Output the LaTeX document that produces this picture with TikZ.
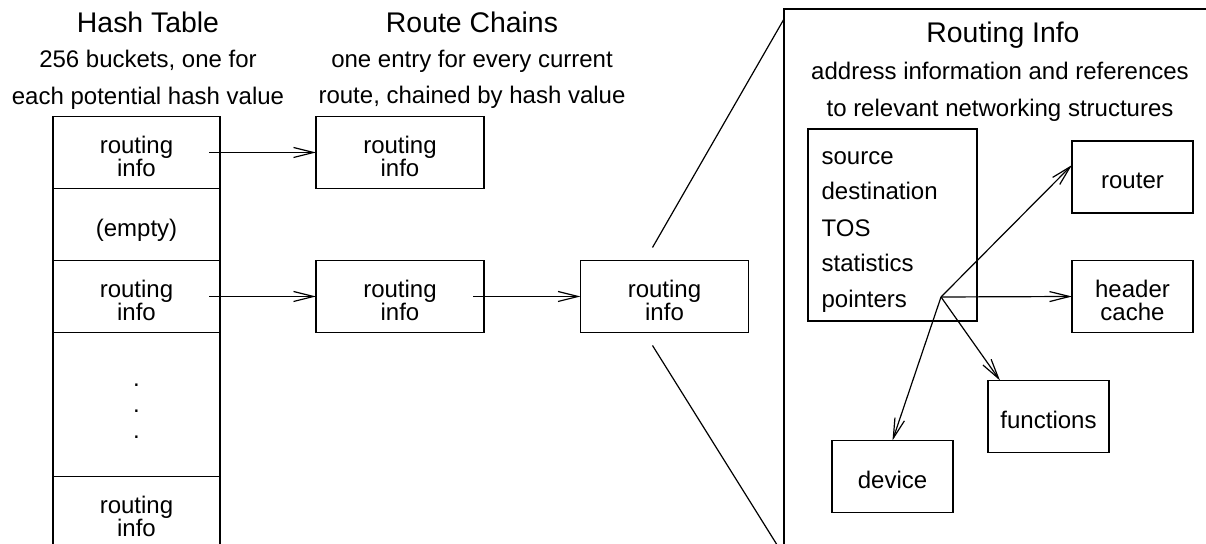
\documentclass[tikz,border=0pt]{standalone}
\usepackage{fontspec}
\setmainfont{Liberation Sans}
\usepackage{tikz}
\usetikzlibrary{arrows.meta}
\usetikzlibrary{positioning}
\tikzset{
  Feld/.style={draw, outer sep=0pt, inner sep=0pt, align=center,
    minimum width=83.5pt, minimum height=36pt,
    text height=12pt, text depth=0pt}, % Tabellenzeile
  zweizeilig/.style={text height=24pt}, % routing/info
  Kasten/.style={Feld, minimum width=84pt}, % Kettenglied
  Ziel/.style={Feld, minimum width=60.5pt}, % Strukturen rechts
  Zeiger/.style={->}, % Verweise
  Titel/.style={anchor=base, font=\fontsize{14.2}{16}\selectfont},
  Untertitel/.style={anchor=base}
}

\begin{document}
\begin{tikzpicture}[
x=0.5pt, y=-0.5pt, line width=.6pt,
font=\fontsize{12}{11.5}\selectfont,
>={Straight Barb[length=10pt,width=5pt]} % Voreinstellung für Pfeilspitzen
]
\useasboundingbox (0,0) rectangle (1206,544);
\clip (0,0) rectangle (1206,544);

%Überschriften
\node[Titel] (tHash) at (148,33) {Hash Table};
\node[Untertitel] (uHash1) at (148,68) {256 buckets, one for};
\node[Untertitel] (uHash2) at (148,105) {each potential hash value};
\node[Titel] (tKette) at (472,33) {Route Chains};
\node[Untertitel] (uKette1) at (472,68) {one entry for every current};
\node[Untertitel] (uKette2) at (472,104) {route, chained by hash value};
\node[Titel] (tInfo) at (1003,43) {Routing Info};
\node[Untertitel] (uInfo1) at (1000,80) {address information and references};
\node[Untertitel] (uInfo2) at (1000,117) {to relevant networking structures};

%Hashtabelle
\node[Feld, zweizeilig] (h1) at (136.5,152.5) {routing\\info};
\node[Feld, below=0pt of h1] (h2) {(empty)};
\node[Feld, zweizeilig, below=0pt of h2] (h3) {routing\\info};
\node[Feld, below=0pt of h3, minimum height=72pt, text height=34pt,
  font=\fontsize{12}{13}\selectfont] (h4) {.\\.\\.};
\node[Feld, zweizeilig, below=0pt of h4] (h5) {routing\\info};

%Ketten
\node[Kasten, zweizeilig] (k1) at (400,152.5) {routing\\info};
\node[Kasten, zweizeilig] (k2) at (400,296.5) {routing\\info};
\node[Kasten, zweizeilig] (k3) at (664.5,296.5) {routing\\info};

%Vergrößerung
\node[draw, outer sep=0pt, anchor=north west,
  minimum width=300pt, minimum height=300pt] (gross) at (784,9) {};
\coordinate (lo) at (784,19);
\coordinate (lu) at (784,556);
\draw ([shift={(-6pt,6.5pt)}]k3.north) -- (lo);
\draw ([shift={(-6pt,-6.5pt)}]k3.south) -- (lu);

\node[draw, outer sep=0pt, anchor=north west,
  minimum width=84.5pt, minimum height=96pt] (felder) at (808,129) {};
\foreach \n/\y/\t in {src/165/source, dst/200/destination, tos/237/TOS,
  stat/272/statistics, ptrs/308/pointers}
  \node[anchor=base west, inner sep=0pt] (\n) at (821,\y) {\t};
\coordinate (ptr) at (941,297);

\node[Ziel] (router) at (1132.5,177) {router};
\node[Ziel, zweizeilig] (cache) at (1132.5,296.5) {header\\cache};
\node[Ziel] (fkt) at (1048.5,416.5) {functions};
\node[Ziel] (device) at (892.5,476.5) {device};

%Pfeile
\draw[Zeiger] ([xshift=-5.5pt]h1.east) -- (k1.west);
\draw[Zeiger] ([xshift=-5.5pt]h3.east) -- (k2.west);
\draw[Zeiger] ([xshift=-5.5pt]k2.east) -- (k3.west);

\draw[Zeiger] (ptr) -- ([yshift=6pt]router.west);
\draw[Zeiger] (ptr) -- (cache.west);
\draw[Zeiger] (ptr) -- ([xshift=6pt]fkt.north west);
\draw[Zeiger] (ptr) -- (device.north);

\end{tikzpicture}
\end{document}
